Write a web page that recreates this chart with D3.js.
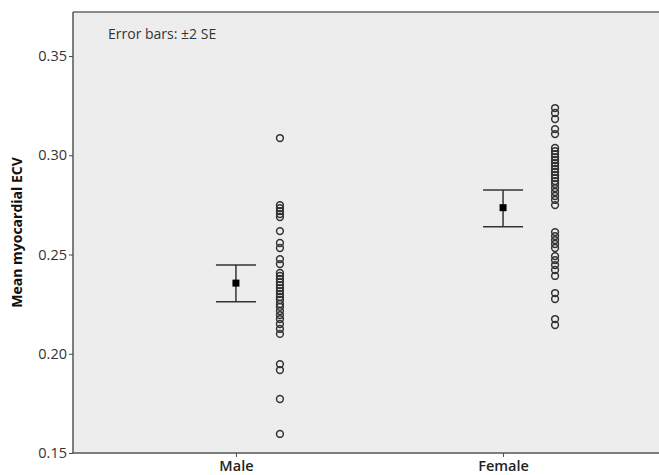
<!DOCTYPE html>
<html>
<head>
<meta charset="utf-8">
<script src="https://cdn.jsdelivr.net/npm/d3@7"></script>
<style>
    body { margin: 0; background: #fff; }
    .tick-label { font-family: "Open Sans", "Liberation Sans", sans-serif; font-size: 14.5px; fill: #333; }
    .cat-label { font-family: "Open Sans", "Liberation Sans", sans-serif; font-size: 14.5px; font-weight: 600; fill: #222; }
    .y-title { font-family: "Open Sans", "Liberation Sans", sans-serif; font-size: 14px; font-weight: 700; fill: #111; }
    .note { font-family: "Open Sans", "Liberation Sans", sans-serif; font-size: 14px; fill: #333; }
</style>
</head>
<body>
<div id="chart"></div>
<script>
// Mean ECV by sex with +/- 2 SE error bars and the individual values beside each.

const categories = ["Male", "Female"];
const means = [0.2356, 0.2736];
const upper = [0.2447, 0.2825];
const lower = [0.2262, 0.2640];
const yTicks = [0.15, 0.20, 0.25, 0.30, 0.35];

const maleValues = [
    0.3087, 0.2749, 0.2734, 0.2719, 0.2704, 0.2689, 0.2618, 0.2558, 0.2533, 0.2477,
    0.2452, 0.2407, 0.2392, 0.2377, 0.2361, 0.2346, 0.2331, 0.2316, 0.2301, 0.2286,
    0.2271, 0.2251, 0.2236, 0.2215, 0.2195, 0.2175, 0.2150, 0.2125, 0.2100, 0.1948,
    0.1918, 0.1772, 0.1596
];
const femaleValues = [
    0.3238, 0.3213, 0.3183, 0.3132, 0.3107, 0.3037, 0.3021, 0.3006, 0.2991, 0.2976,
    0.2961, 0.2946, 0.2931, 0.2916, 0.2900, 0.2885, 0.2870, 0.2855, 0.2835, 0.2815,
    0.2795, 0.2775, 0.2749, 0.2613, 0.2593, 0.2573, 0.2553, 0.2533, 0.2492, 0.2472,
    0.2447, 0.2422, 0.2392, 0.2306, 0.2276, 0.2175, 0.2145
];

const WIDTH = 659;
const HEIGHT = 475;
const LEFT = 73, TOP = 12, RIGHT = 666, BOTTOM = 453;
const CAP_HALF = 20;
const MARKER = 7;
const POINT_RADIUS = 3.4;
const POINT_OFFSET = { Male: 44, Female: 52 };

const svg = d3.select("#chart").append("svg")
    .attr("width", WIDTH)
    .attr("height", HEIGHT);

const x = d3.scalePoint()
    .domain(categories)
    .range([LEFT, RIGHT])
    .padding(0.61);

const y = d3.scaleLinear()
    .domain([0.15, 0.3722])
    .range([BOTTOM, TOP]);

// plot background
svg.append("rect")
    .attr("x", LEFT).attr("y", TOP)
    .attr("width", RIGHT - LEFT).attr("height", BOTTOM - TOP)
    .attr("fill", "#ededed");

svg.append("line")
    .attr("x1", LEFT).attr("x2", RIGHT)
    .attr("y1", TOP).attr("y2", TOP)
    .attr("stroke", "#666").attr("stroke-width", 1.6);

const yAxis = svg.append("g")
    .attr("transform", `translate(${LEFT},0)`)
    .call(d3.axisLeft(y).tickValues(yTicks).tickFormat(d3.format(".2f")).tickSize(4));
yAxis.select(".domain").remove();
yAxis.selectAll(".tick line").attr("stroke", "#444");
yAxis.selectAll(".tick text").attr("class", "tick-label").attr("x", -6);

const xAxis = svg.append("g")
    .attr("transform", `translate(0,${BOTTOM})`)
    .call(d3.axisBottom(x).tickSize(4));
xAxis.select(".domain").remove();
xAxis.selectAll(".tick line").attr("stroke", "#444");
xAxis.selectAll(".tick text").attr("class", "cat-label").attr("y", 8);

svg.append("line")
    .attr("x1", LEFT).attr("x2", LEFT)
    .attr("y1", TOP).attr("y2", BOTTOM)
    .attr("stroke", "#555").attr("stroke-width", 1.5);
svg.append("line")
    .attr("x1", LEFT).attr("x2", RIGHT)
    .attr("y1", BOTTOM).attr("y2", BOTTOM)
    .attr("stroke", "#555").attr("stroke-width", 1.5);

// individual values
const points = [
    ...maleValues.map(v => ({ cat: "Male", v })),
    ...femaleValues.map(v => ({ cat: "Female", v })),
];
svg.append("g")
    .selectAll("circle")
    .data(points)
    .join("circle")
    .attr("cx", d => x(d.cat) + POINT_OFFSET[d.cat])
    .attr("cy", d => y(d.v))
    .attr("r", POINT_RADIUS)
    .attr("fill", "none")
    .attr("stroke", "#333")
    .attr("stroke-width", 1.5);

// error bars
const bars = categories.map((c, i) => ({ cat: c, mean: means[i], hi: upper[i], lo: lower[i] }));
const barG = svg.append("g")
    .selectAll("g")
    .data(bars)
    .join("g")
    .attr("stroke", "#333")
    .attr("stroke-width", 1.5);

barG.append("line")
    .attr("x1", d => x(d.cat)).attr("x2", d => x(d.cat))
    .attr("y1", d => y(d.hi)).attr("y2", d => y(d.lo));
barG.append("line")
    .attr("x1", d => x(d.cat) - CAP_HALF).attr("x2", d => x(d.cat) + CAP_HALF)
    .attr("y1", d => y(d.hi)).attr("y2", d => y(d.hi));
barG.append("line")
    .attr("x1", d => x(d.cat) - CAP_HALF).attr("x2", d => x(d.cat) + CAP_HALF)
    .attr("y1", d => y(d.lo)).attr("y2", d => y(d.lo));

svg.append("g")
    .selectAll("rect")
    .data(bars)
    .join("rect")
    .attr("x", d => x(d.cat) - MARKER / 2)
    .attr("y", d => y(d.mean) - MARKER / 2)
    .attr("width", MARKER)
    .attr("height", MARKER)
    .attr("fill", "#000");

svg.append("text")
    .attr("class", "y-title")
    .attr("transform", `translate(22,${(TOP + BOTTOM) / 2}) rotate(-90)`)
    .attr("text-anchor", "middle")
    .text("Mean myocardial ECV");

svg.append("text")
    .attr("class", "note")
    .attr("x", 108)
    .attr("y", 39)
    .text("Error bars: ±2 SE");
</script>
</body>
</html>
